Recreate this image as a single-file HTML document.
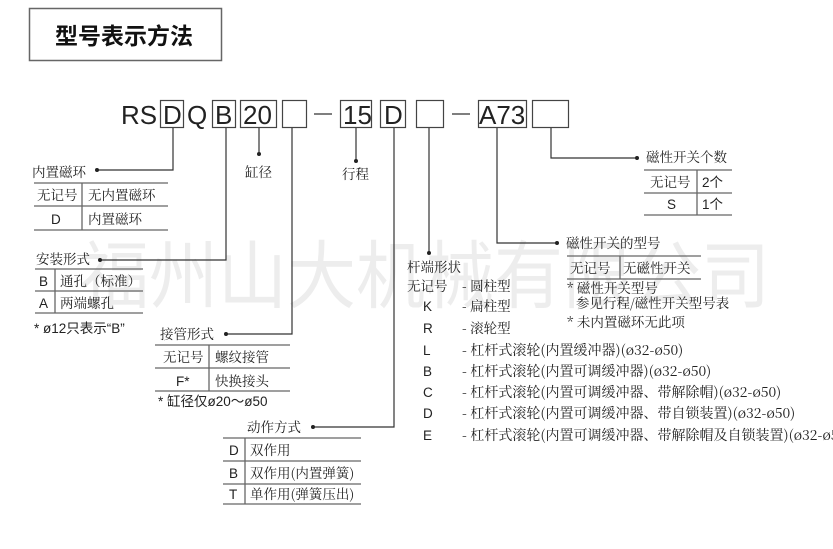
<!DOCTYPE html>
<html><head><meta charset="utf-8"><style>
html,body{margin:0;padding:0;background:#fff;}
svg{display:block;font-family:"Liberation Sans","Noto Sans CJK SC",sans-serif;}
.c{font-family:"Noto Serif CJK SC","Noto Sans CJK SC",serif;font-size:13.5px;fill:#222;}
.l{font-family:"Liberation Sans","Noto Sans CJK SC",sans-serif;font-size:13.5px;fill:#222;}
.big{font-family:"Liberation Sans",sans-serif;font-size:26px;fill:#222;}
</style></head><body>
<svg width="833" height="549" viewBox="0 0 833 549" xmlns="http://www.w3.org/2000/svg">
<rect width="833" height="549" fill="#fff"/>
<text x="80" y="302" font-size="74" fill="#ededed" font-family="Noto Sans CJK SC,sans-serif" textLength="690" lengthAdjust="spacingAndGlyphs">福州山大机械有限公司</text>
<rect x="29.5" y="8.5" width="192" height="52" fill="none" stroke="#666" stroke-width="1.5"/>
<text x="55" y="44" font-size="23" fill="#111" font-family="Noto Sans CJK SC,sans-serif" font-weight="bold" textLength="138">型号表示方法</text>
<g stroke="#444" stroke-width="1.2" fill="#fff">
<rect x="160.5" y="100.5" width="23" height="27"/>
<rect x="212.5" y="100.5" width="23" height="27"/>
<rect x="240.5" y="100.5" width="36" height="27"/>
<rect x="282.5" y="100.5" width="24" height="27"/>
<rect x="340.5" y="100.5" width="31" height="27"/>
<rect x="380.5" y="100.5" width="25" height="27"/>
<rect x="416.5" y="100.5" width="27" height="27"/>
<rect x="478.5" y="100.5" width="48" height="27"/>
<rect x="532.5" y="100.5" width="36" height="27"/>
</g>
<text class="big" x="121" y="124">RS</text>
<text class="big" x="163" y="124">D</text>
<text class="big" x="187" y="124">Q</text>
<text class="big" x="215" y="124">B</text>
<text class="big" x="243" y="124">20</text>
<text class="big" x="343" y="124">15</text>
<text class="big" x="384" y="124">D</text>
<text class="big" x="479" y="124">A73</text>
<line x1="314" y1="114" x2="332" y2="114" stroke="#555" stroke-width="1.5"/>
<line x1="452" y1="114" x2="470" y2="114" stroke="#555" stroke-width="1.5"/>
<g stroke="#333" stroke-width="1.2" fill="none">
<polyline points="173,128 173,170 98,170"/>
<polyline points="226,128 226,260 100,260"/>
<polyline points="259,128 259,152"/>
<polyline points="292,128 292,334 227,334"/>
<polyline points="356,128 356,160"/>
<polyline points="394,128 394,427 313,427"/>
<polyline points="429,128 429,253"/>
<polyline points="497,128 497,243 557,243"/>
<polyline points="551,128 551,158 636,158"/>
</g>
<g fill="#222">
<circle cx="97" cy="170" r="2"/><circle cx="100" cy="260" r="2"/><circle cx="259" cy="154" r="2"/>
<circle cx="226" cy="334" r="2"/><circle cx="356" cy="161" r="2"/><circle cx="313" cy="427" r="2"/>
<circle cx="429" cy="253" r="2"/><circle cx="557" cy="243" r="2"/><circle cx="637" cy="158" r="2"/>
</g>
<g stroke="#666" stroke-width="1.3">
<line x1="34" y1="183" x2="168" y2="183"/><line x1="34" y1="206" x2="168" y2="206"/><line x1="34" y1="230" x2="168" y2="230"/><line x1="82" y1="183" x2="82" y2="230"/>
<line x1="35" y1="269" x2="143" y2="269"/><line x1="35" y1="291" x2="143" y2="291"/><line x1="35" y1="313" x2="143" y2="313"/><line x1="55" y1="269" x2="55" y2="313"/>
<line x1="155" y1="345" x2="290" y2="345"/><line x1="155" y1="368" x2="290" y2="368"/><line x1="155" y1="391" x2="290" y2="391"/><line x1="209" y1="345" x2="209" y2="391"/>
<line x1="223" y1="438" x2="361" y2="438"/><line x1="223" y1="461" x2="361" y2="461"/><line x1="223" y1="484" x2="361" y2="484"/><line x1="223" y1="504" x2="361" y2="504"/><line x1="245" y1="438" x2="245" y2="504"/>
<line x1="567" y1="256" x2="701" y2="256"/><line x1="567" y1="279" x2="701" y2="279"/><line x1="620" y1="256" x2="620" y2="279"/>
<line x1="644" y1="170" x2="732" y2="170"/><line x1="644" y1="193" x2="732" y2="193"/><line x1="644" y1="215" x2="732" y2="215"/><line x1="697" y1="170" x2="697" y2="215"/>
</g>
<text class="c" x="32" y="177">内置磁环</text>
<text class="c" x="37" y="200">无记号</text><text class="c" x="88" y="200">无内置磁环</text>
<text class="l" x="51" y="224">D</text><text class="c" x="88" y="224">内置磁环</text>
<text class="c" x="36" y="264">安装形式</text>
<text class="l" x="39" y="286">B</text><text class="c" x="60" y="286">通孔（标准）</text>
<text class="l" x="39" y="308">A</text><text class="c" x="60" y="308">两端螺孔</text>
<text class="l" x="34" y="333" font-size="12">* ø12只表示“B”</text>
<text class="c" x="245" y="177">缸径</text>
<text class="c" x="342" y="179">行程</text>
<text class="c" x="160" y="339">接管形式</text>
<text class="c" x="163" y="362">无记号</text><text class="c" x="215" y="362">螺纹接管</text>
<text class="l" x="176" y="386">F*</text><text class="c" x="215" y="386">快换接头</text>
<text class="l" x="158" y="406" font-size="12">* 缸径仅ø20～ø50</text>
<text class="c" x="247" y="432">动作方式</text>
<text class="l" x="229" y="455">D</text><text class="c" x="250" y="455">双作用</text>
<text class="l" x="229" y="478">B</text><text class="c" x="250" y="478">双作用(内置弹簧)</text>
<text class="l" x="229" y="499">T</text><text class="c" x="250" y="499">单作用(弹簧压出)</text>
<text class="c" x="407" y="272">杆端形状</text>
<text class="c" x="407" y="291">无记号</text><text class="c" x="462" y="291">- 圆柱型</text>
<text class="l" x="423" y="311">K</text><text class="c" x="462" y="311">- 扁柱型</text>
<text class="l" x="423" y="333">R</text><text class="c" x="462" y="333">- 滚轮型</text>
<g style="font-size:14px">
<text class="l" x="423" y="355">L</text><text class="c" x="462" y="355" style="font-size:14px">- 杠杆式滚轮(内置缓冲器)(ø32-ø50)</text>
<text class="l" x="423" y="376">B</text><text class="c" x="462" y="376" style="font-size:14px">- 杠杆式滚轮(内置可调缓冲器)(ø32-ø50)</text>
<text class="l" x="423" y="397">C</text><text class="c" x="462" y="397" style="font-size:14px">- 杠杆式滚轮(内置可调缓冲器、带解除帽)(ø32-ø50)</text>
<text class="l" x="423" y="418">D</text><text class="c" x="462" y="418" style="font-size:14px">- 杠杆式滚轮(内置可调缓冲器、带自锁装置)(ø32-ø50)</text>
<text class="l" x="423" y="440">E</text><text class="c" x="462" y="440" style="font-size:14px">- 杠杆式滚轮(内置可调缓冲器、带解除帽及自锁装置)(ø32-ø50)</text>
</g>
<text class="c" x="566" y="248">磁性开关的型号</text>
<text class="c" x="570" y="273">无记号</text><text class="c" x="623" y="273">无磁性开关</text>
<text class="c" x="567" y="293" font-size="12">* 磁性开关型号</text>
<text class="c" x="576" y="308" font-size="12">参见行程/磁性开关型号表</text>
<text class="c" x="567" y="327" font-size="12">* 未内置磁环无此项</text>
<text class="c" x="646" y="162">磁性开关个数</text>
<text class="c" x="650" y="187">无记号</text><text class="l" x="702" y="187">2个</text>
<text class="l" x="667" y="209">S</text><text class="l" x="702" y="209">1个</text>
</svg>
</body></html>
